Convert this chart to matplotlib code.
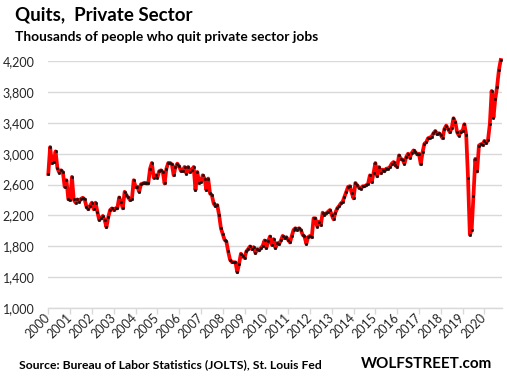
import matplotlib
matplotlib.use("Agg")
import matplotlib.pyplot as plt
from matplotlib.transforms import ScaledTranslation
import numpy as np

# Monthly private-sector quits (thousands)
quits = [
    2738, 3086, 2880, 2892, 3030, 2815, 2755, 2785, 2763, 2570,
    2656, 2411, 2398, 2699, 2407, 2364, 2407, 2376, 2415, 2428,
    2407, 2312, 2278, 2325, 2364, 2278, 2364, 2247, 2140, 2161,
    2192, 2140, 2045, 2174, 2269, 2290, 2269, 2290, 2290, 2432,
    2376, 2290, 2505, 2462, 2432, 2398, 2407, 2656, 2570, 2570,
    2505, 2604, 2613, 2622, 2613, 2613, 2806, 2880, 2690, 2720,
    2690, 2772, 2785, 2763, 2613, 2806, 2880, 2880, 2862, 2720,
    2828, 2871, 2836, 2776, 2776, 2828, 2742, 2828, 2763, 2785,
    2828, 2527, 2763, 2622, 2634, 2720, 2677, 2527, 2677, 2484,
    2462, 2355, 2320, 2333, 2204, 2032, 1959, 1882, 1860, 1731,
    1624, 1594, 1590, 1590, 1460, 1572, 1701, 1667, 1645, 1731,
    1761, 1796, 1761, 1787, 1710, 1761, 1744, 1774, 1804, 1873,
    1774, 1860, 1925, 1817, 1890, 1775, 1839, 1826, 1873, 1933,
    1903, 1916, 1882, 1847, 1933, 2011, 2032, 2011, 2032, 2011,
    1946, 1925, 1830, 1916, 1933, 1916, 2161, 2161, 2054, 2118,
    2075, 2234, 2204, 2226, 2247, 2269, 2204, 2148, 2234, 2290,
    2320, 2355, 2376, 2441, 2505, 2570, 2578, 2490, 2420, 2620,
    2590, 2559, 2546, 2577, 2577, 2590, 2611, 2719, 2633, 2749,
    2879, 2706, 2827, 2749, 2793, 2771, 2806, 2806, 2827, 2870,
    2892, 2849, 2827, 2978, 2935, 2922, 2870, 2957, 3000, 2948,
    3009, 3043, 3022, 2991, 3000, 2862, 3022, 3130, 3149, 3201,
    3210, 3223, 3266, 3296, 3253, 3266, 3244, 3201, 3322, 3365,
    3322, 3279, 3331, 3461, 3409, 3279, 3236, 3288, 3296, 3383,
    3244, 2682, 1947, 2012, 2457, 2933, 2769, 3106, 3123, 3115,
    3167, 3136, 3180, 3383, 3815, 3469, 3711, 3871, 4088, 4217,
]
year_labels = [str(y) for y in range(2000, 2021)]
y_ticks = [1000, 1400, 1800, 2200, 2600, 3000, 3400, 3800, 4200]

FONT = ["Lato", "DejaVu Sans"]
plt.rcParams['font.family'] = FONT

W, H = 507, 381
fig = plt.figure(figsize=(W / 100, H / 100), dpi=100)
fig.patch.set_facecolor("white")

left, right = 48.3 / W, 502 / W
bottom, top = 1 - 307.7 / H, 1 - 61.3 / H
ax = fig.add_axes([left, bottom, right - left, top - bottom])

x = np.arange(len(quits))
ax.plot(x, quits, color="#ff0000", lw=2.7, zorder=3, clip_on=False,
        solid_joinstyle="round")
ax.plot(x, quits, ls="none", marker="o", ms=1.7, color="#111111",
        mec="#111111", mew=0.4, zorder=4, clip_on=False)

ax.set_ylim(1000, 4200)
ax.set_xlim(0, 249.7)
ax.set_yticks(y_ticks)
ax.set_yticklabels([f"{v:,}" for v in y_ticks], fontsize=9, color="#262626")
ax.set_xticks(np.arange(len(year_labels)) * 12)
ax.set_xticklabels(year_labels, fontsize=9, color="#262626", rotation=45,
                   ha="right", va="center", rotation_mode="anchor")
off = ScaledTranslation(3 / 100, -11 / 100, fig.dpi_scale_trans)
for lab in ax.get_xticklabels():
    lab.set_transform(lab.get_transform() + off)

ax.grid(axis="y", color="#d9d9d9", lw=1)
ax.set_axisbelow(True)
for s in ["left", "right", "top"]:
    ax.spines[s].set_visible(False)
ax.spines["bottom"].set_color("#d9d9d9")
ax.spines["bottom"].set_linewidth(1)
ax.tick_params(axis="y", length=0, pad=10)
ax.tick_params(axis="x", length=4, width=1, color="#d9d9d9", direction="out", pad=2)

fig.text(15 / W, 1 - 20.7 / H, "Quits,  Private Sector", fontsize=13.5,
         fontweight="bold", color="black", va="baseline", ha="left")
fig.text(15 / W, 1 - 41.3 / H, "Thousands of people who quit private sector jobs",
         fontsize=9.9, fontweight="bold", color="black", va="baseline", ha="left")
fig.text(19 / W, 1 - 368 / H, "Source: Bureau of Labor Statistics (JOLTS), St. Louis Fed",
         fontsize=8.7, fontweight="bold", color="black", va="baseline", ha="left")
fig.text(492 / W, 1 - 368 / H, "WOLFSTREET.com", fontsize=11,
         fontweight="bold", color="black", va="baseline", ha="right")

fig.savefig("out.png", dpi=100, facecolor="white")
